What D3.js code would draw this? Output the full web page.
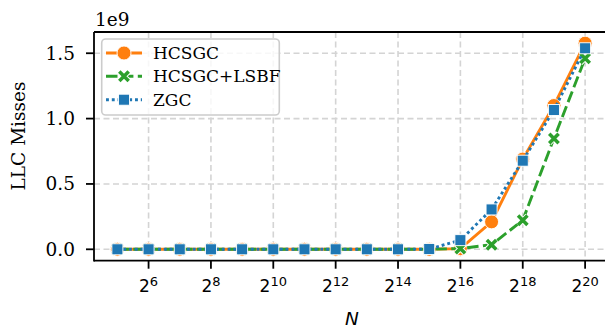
<!DOCTYPE html>
<html>
<head>
<meta charset="utf-8">
<script src="https://cdn.jsdelivr.net/npm/d3@7"></script>
<style>
  body { margin: 0; background: #fff; }
  svg { display: block; }
  text { font-family: 'DejaVu Serif', serif; fill: #000; }
</style>
</head>
<body>
<div id="chart"></div>
<script>
var width = 605
var height = 332

// exponents of N (x = 2^e)
var exponents = [5, 6, 7, 8, 9, 10, 11, 12, 13, 14, 15, 16, 17, 18, 19, 20]
// LLC misses in units of 1e9
var hcsgc = [0, 0, 0, 0, 0, 0, 0, 0, 0, 0, 0, 0.005, 0.21, 0.69, 1.10, 1.577]
var hcsgcLsbf = [0, 0, 0, 0, 0, 0, 0, 0, 0, 0, 0, 0.006, 0.035, 0.222, 0.848, 1.461]
var zgc = [0, 0, 0, 0, 0, 0, 0, 0, 0, 0, 0.002, 0.07, 0.305, 0.678, 1.066, 1.538]

var seriesNames = ['HCSGC', 'HCSGC+LSBF', 'ZGC']
var seriesColors = ['#ff7f0e', '#2ca02c', '#1f77b4']
var yTicks = [0, 0.5, 1.0, 1.5]
var xTickExps = [6, 8, 10, 12, 14, 16, 18, 20]

var margin = { left: 94, top: 32, right: 608.5, bottom: 260.7 }

var svg = d3.select('#chart').append('svg')
    .attr('width', width)
    .attr('height', height)

var x = d3.scaleLog().base(2)
    .domain([Math.pow(2, 4.25), Math.pow(2, 20.75)])
    .range([margin.left, margin.right])

var y = d3.scaleLinear()
    .domain([-0.0872, 1.6625])
    .range([margin.bottom, margin.top])

// grid
var grid = svg.append('g')
grid.selectAll('.vg').data(xTickExps).enter().append('line')
    .attr('x1', function (d) { return x(Math.pow(2, d)) })
    .attr('x2', function (d) { return x(Math.pow(2, d)) })
    .attr('y1', margin.top).attr('y2', margin.bottom)
    .attr('stroke', '#d4d4d4').attr('stroke-width', 1.6)
    .attr('stroke-dasharray', '6,3.5')
grid.selectAll('.hg').data(yTicks).enter().append('line')
    .attr('y1', function (d) { return y(d) })
    .attr('y2', function (d) { return y(d) })
    .attr('x1', margin.left).attr('x2', margin.right)
    .attr('stroke', '#d4d4d4').attr('stroke-width', 1.6)
    .attr('stroke-dasharray', '6,3.5')

// series
var series = [
    { name: seriesNames[0], values: hcsgc, color: seriesColors[0], dash: null, marker: 'circle' },
    { name: seriesNames[1], values: hcsgcLsbf, color: seriesColors[1], dash: '11.5,4.4', marker: 'x' },
    { name: seriesNames[2], values: zgc, color: seriesColors[2], dash: '2.9,2.9', marker: 'square' }
]

var line = d3.line()
    .x(function (d) { return x(Math.pow(2, d[0])) })
    .y(function (d) { return y(d[1]) })

function drawMarker(g, kind, color) {
    if (kind === 'circle') {
        g.append('circle').attr('r', 7)
            .attr('fill', color).attr('stroke', '#fff').attr('stroke-width', 0.9)
    } else if (kind === 'square') {
        g.append('rect').attr('x', -5.5).attr('y', -5.5).attr('width', 11).attr('height', 11)
            .attr('fill', color).attr('stroke', '#fff').attr('stroke-width', 0.9)
    } else {
        var s = 4.7
        var p = 'M' + (-s) + ',' + (-s) + 'L' + s + ',' + s + 'M' + (-s) + ',' + s + 'L' + s + ',' + (-s)
        g.append('path').attr('d', p).attr('stroke', '#fff').attr('stroke-width', 5.4)
        g.append('path').attr('d', p).attr('stroke', color).attr('stroke-width', 3.5)
    }
}

series.forEach(function (s) {
    var pts = exponents.map(function (e, i) { return [e, s.values[i]] })
    var g = svg.append('g')
    g.append('path')
        .datum(pts)
        .attr('d', line)
        .attr('fill', 'none')
        .attr('stroke', s.color)
        .attr('stroke-width', 2.9)
        .attr('stroke-dasharray', s.dash)
    g.selectAll('.m').data(pts).enter().append('g')
        .attr('transform', function (d) { return 'translate(' + x(Math.pow(2, d[0])) + ',' + y(d[1]) + ')' })
        .each(function () { drawMarker(d3.select(this), s.marker, s.color) })
})

// spines
svg.append('line').attr('x1', margin.left).attr('x2', margin.left)
    .attr('y1', margin.top).attr('y2', margin.bottom + 0.9)
    .attr('stroke', '#000').attr('stroke-width', 1.8)
svg.append('line').attr('x1', margin.left).attr('x2', margin.right)
    .attr('y1', margin.bottom).attr('y2', margin.bottom)
    .attr('stroke', '#000').attr('stroke-width', 1.8)
svg.append('line').attr('x1', margin.left).attr('x2', margin.right)
    .attr('y1', margin.top).attr('y2', margin.top)
    .attr('stroke', '#000').attr('stroke-width', 1.8)

// y axis ticks
var yAxis = svg.append('g')
yTicks.forEach(function (t) {
    yAxis.append('line').attr('x1', margin.left - 8).attr('x2', margin.left)
        .attr('y1', y(t)).attr('y2', y(t)).attr('stroke', '#000').attr('stroke-width', 1.8)
    yAxis.append('text').attr('x', margin.left - 19).attr('y', y(t) + 6.5)
        .attr('text-anchor', 'end').attr('font-size', 18.5)
        .text(t.toFixed(1))
})

// x axis ticks (mathtext-style labels, sans)
var xAxis = svg.append('g')
xTickExps.forEach(function (e) {
    var px = x(Math.pow(2, e))
    xAxis.append('line').attr('x1', px).attr('x2', px)
        .attr('y1', margin.bottom).attr('y2', margin.bottom + 8)
        .attr('stroke', '#000').attr('stroke-width', 1.8)
    var t = xAxis.append('text').attr('x', px).attr('y', 292)
        .attr('text-anchor', 'middle').attr('font-size', 17)
        .style('font-family', "'DejaVu Sans', sans-serif")
    t.append('tspan').text('2')
    t.append('tspan').attr('dy', -6.5).attr('font-size', 13).text(e)
})

// offset text
svg.append('text').attr('x', 95).attr('y', 25.5).attr('font-size', 18.5).text('1e9')

// axis labels
svg.append('text')
    .attr('transform', 'translate(25,136) rotate(-90)')
    .attr('text-anchor', 'middle').attr('font-size', 18.5)
    .text('LLC Misses')
svg.append('text').attr('x', 352).attr('y', 325)
    .attr('text-anchor', 'middle').attr('font-size', 18.5)
    .style('font-family', "'DejaVu Sans', sans-serif").style('font-style', 'italic')
    .text('N')

// legend
var legend = svg.append('g')
legend.append('rect').attr('x', 101.7).attr('y', 39).attr('width', 177.6).attr('height', 76)
    .attr('rx', 4).attr('fill', '#fff').attr('fill-opacity', 0.8)
    .attr('stroke', '#cccccc').attr('stroke-width', 1.6)
var legendY = [53, 76.3, 99.7]
series.forEach(function (s, i) {
    var g = legend.append('g').attr('transform', 'translate(0,' + legendY[i] + ')')
    g.append('line').attr('x1', 106).attr('x2', 142).attr('y1', 0).attr('y2', 0)
        .attr('stroke', s.color).attr('stroke-width', 2.9)
        .attr('stroke-dasharray', s.dash)
    var m = g.append('g').attr('transform', 'translate(124,0)')
    drawMarker(m, s.marker, s.color)
    g.append('text').attr('x', 153).attr('y', 6).attr('font-size', 17).text(s.name)
})
</script>
</body>
</html>
